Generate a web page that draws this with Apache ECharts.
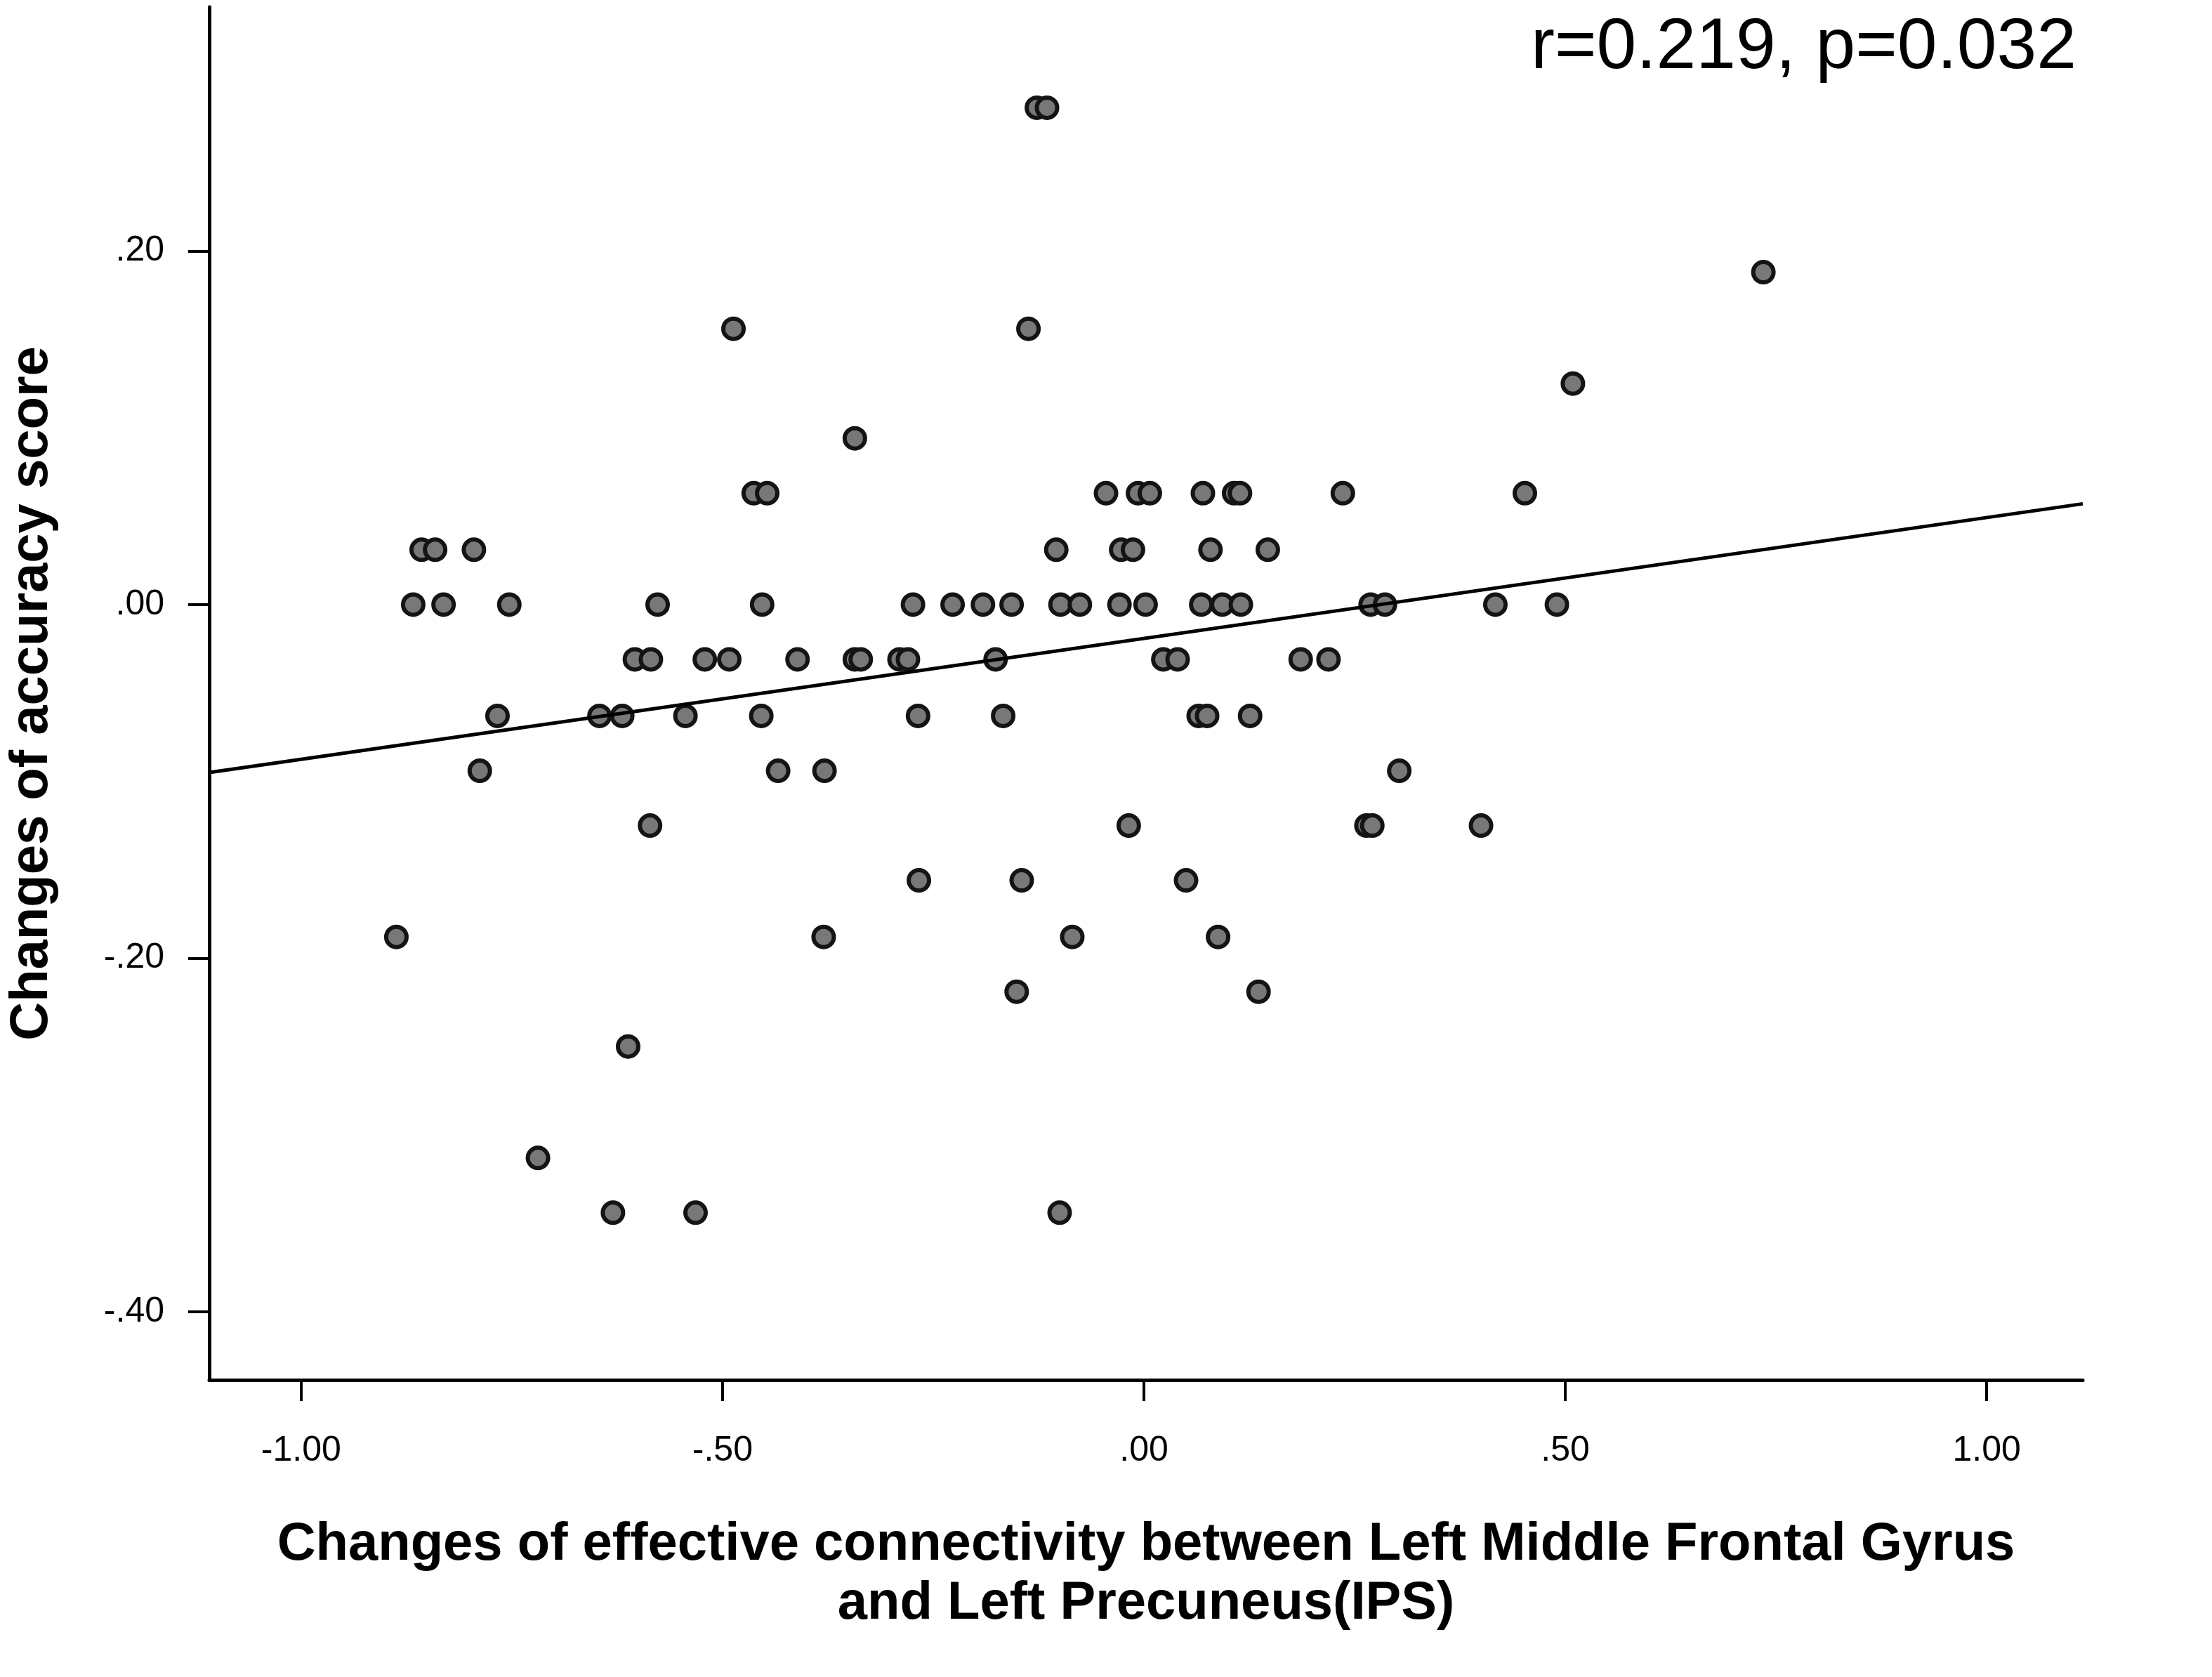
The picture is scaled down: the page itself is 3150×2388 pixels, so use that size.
<!DOCTYPE html>
<html>
<head>
<meta charset="utf-8">
<script src="https://cdn.jsdelivr.net/npm/echarts@6/dist/echarts.min.js"></script>
<style>
  html, body { margin: 0; padding: 0; background: #fff; }
  #chart { width: 3150px; height: 2388px; }
</style>
</head>
<body>
<div id="chart"></div>
<script>
// x: changes of effective connectivity, y: changes of accuracy score (read row by row)
var connectivityChange = [
  -0.127, -0.115,
  0.735,
  -0.487, -0.137,
  0.509,
  -0.343,
  -0.463, -0.447, -0.045, -0.007, 0.007, 0.070, 0.107, 0.114, 0.236, 0.452,
  -0.857, -0.841, -0.795, -0.104, -0.027, -0.013, 0.079, 0.147,
  -0.867, -0.831, -0.753, -0.577, -0.453, -0.274, -0.227, -0.191, -0.157, -0.099,
  -0.076, -0.029, 0.002, 0.068, 0.093, 0.115, 0.269, 0.286, 0.417, 0.490,
  -0.604, -0.585, -0.521, -0.492, -0.411, -0.343, -0.336, -0.290, -0.280, -0.176,
  0.023, 0.040, 0.186, 0.219,
  -0.767, -0.646, -0.619, -0.544, -0.454, -0.268, -0.167, 0.065, 0.075, 0.126,
  -0.788, -0.434, -0.379, 0.303,
  -0.586, -0.018, 0.264, 0.271, 0.400,
  -0.267, -0.145, 0.050,
  -0.887, -0.380, -0.085, 0.088,
  -0.151, 0.136,
  -0.612,
  -0.719,
  -0.630, -0.532, -0.100
];
var accuracyChange = [
  0.281, 0.281,
  0.188,
  0.156, 0.156,
  0.125,
  0.094,
  0.063, 0.063, 0.063, 0.063, 0.063, 0.063, 0.063, 0.063, 0.063, 0.063,
  0.031, 0.031, 0.031, 0.031, 0.031, 0.031, 0.031, 0.031,
  0, 0, 0, 0, 0, 0, 0, 0, 0, 0,
  0, 0, 0, 0, 0, 0, 0, 0, 0, 0,
  -0.031, -0.031, -0.031, -0.031, -0.031, -0.031, -0.031, -0.031, -0.031, -0.031,
  -0.031, -0.031, -0.031, -0.031,
  -0.063, -0.063, -0.063, -0.063, -0.063, -0.063, -0.063, -0.063, -0.063, -0.063,
  -0.094, -0.094, -0.094, -0.094,
  -0.125, -0.125, -0.125, -0.125, -0.125,
  -0.156, -0.156, -0.156,
  -0.188, -0.188, -0.188, -0.188,
  -0.219, -0.219,
  -0.250,
  -0.313,
  -0.344, -0.344, -0.344
];
// linear fit line, end points at the axis limits
var fitX = [-1.109, 1.114];
var fitY = [-0.095, 0.057];

var xTicks = [-1, -0.5, 0, 0.5, 1];
var yTicks = [-0.4, -0.2, 0, 0.2];
var statText = 'r=0.219, p=0.032';
var xTitle = 'Changes of effective connectivity between Left Middle Frontal Gyrus\nand Left Precuneus(IPS)';
var yTitle = 'Changes of accuracy score';

function spssLabel(v) {
  var s = Math.abs(v).toFixed(2);
  if (s.charAt(0) === '0') s = s.slice(1);
  return (v < 0 ? '-' : '') + s;
}

var points = connectivityChange.map(function (x, i) { return [x, accuracyChange[i]]; });
var fitLine = fitX.map(function (x, i) { return [x, fitY[i]]; });

var chart = echarts.init(document.getElementById('chart'));
var font = '"Liberation Sans", Arial, sans-serif';

chart.setOption({
  animation: false,
  backgroundColor: '#fff',
  title: {
    text: statText,
    right: 193,
    top: 18,
    padding: 0,
    textStyle: { fontFamily: font, fontSize: 102, fontWeight: 'normal', color: '#000' }
  },
  grid: { left: 296, top: 10, width: 2670, height: 1955, containLabel: false },
  xAxis: {
    type: 'value',
    min: -1.109,
    max: 1.114,
    name: xTitle,
    nameLocation: 'middle',
    nameGap: 193,
    nameTextStyle: { fontFamily: font, fontSize: 76, fontWeight: 'bold', color: '#000', lineHeight: 84, align: 'center' },
    splitLine: { show: false },
    axisLine: { show: true, onZero: false, lineStyle: { color: '#000', width: 5 } },
    axisTick: { show: true, customValues: xTicks, length: 30, lineStyle: { color: '#000', width: 4 } },
    axisLabel: {
      customValues: xTicks,
      formatter: spssLabel,
      margin: 76,
      fontFamily: font, fontSize: 50, color: '#000'
    }
  },
  yAxis: {
    type: 'value',
    min: -0.4386,
    max: 0.338,
    name: yTitle,
    nameLocation: 'middle',
    nameGap: 214,
    nameTextStyle: { fontFamily: font, fontSize: 76, fontWeight: 'bold', color: '#000', lineHeight: 76 },
    splitLine: { show: false },
    axisLine: { show: true, onZero: false, lineStyle: { color: '#000', width: 5 } },
    axisTick: { show: true, customValues: yTicks, length: 30, lineStyle: { color: '#000', width: 4 } },
    axisLabel: {
      customValues: yTicks,
      formatter: spssLabel,
      margin: 64,
      fontFamily: font, fontSize: 50, color: '#000'
    }
  },
  series: [
    {
      type: 'line',
      data: fitLine,
      symbol: 'none',
      silent: true,
      lineStyle: { color: '#000', width: 5 },
      z: 3
    },
    {
      type: 'scatter',
      data: points,
      symbol: 'circle',
      symbolSize: 29,
      itemStyle: { color: '#787878', borderColor: '#141414', borderWidth: 6, opacity: 1 },
      z: 2
    }
  ]
});
</script>
</body>
</html>
